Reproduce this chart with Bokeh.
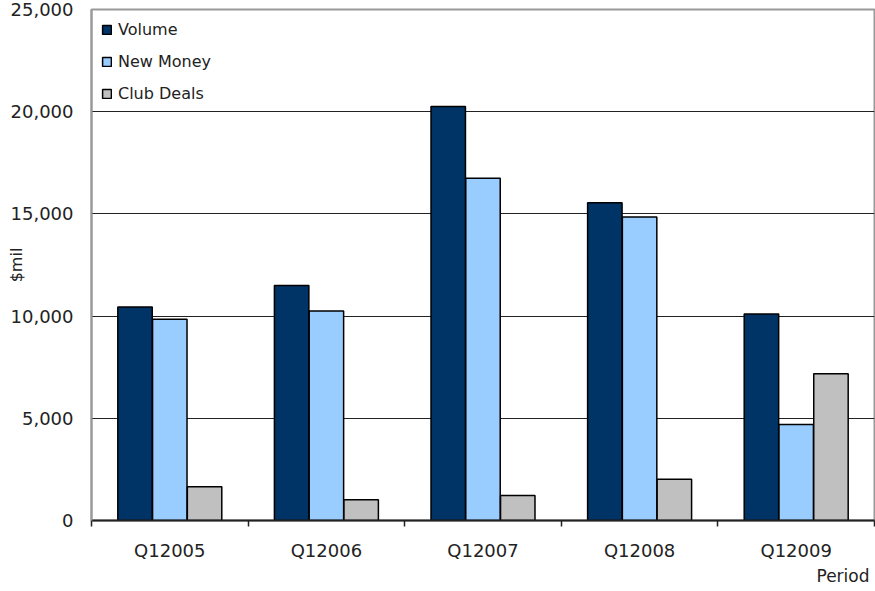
from bokeh.plotting import figure
from bokeh.models import (ColumnDataSource, Range1d, FixedTicker, Title,
                          NumeralTickFormatter, Legend, LegendItem)
from bokeh.transform import dodge
from bokeh.embed import file_html
from bokeh.resources import INLINE

periods = ["Q12005", "Q12006", "Q12007", "Q12008", "Q12009"]
volume = [10450, 11500, 20250, 15550, 10100]
new_money = [9850, 10250, 16750, 14850, 4700]
club_deals = [1650, 1020, 1220, 2020, 7180]
y_ticks = [0, 5000, 10000, 15000, 20000, 25000]

FONT = "DejaVu Sans"
TXT = "#222222"

n = len(periods)
centers = [i + 0.5 for i in range(n)]
bounds = list(range(n + 1))
src = ColumnDataSource(dict(x=centers, period=periods, volume=volume,
                            new_money=new_money, club=club_deals))

W, H = 875, 591
ML, MR, MT, MB = 91, 1, 9, 71
p = figure(width=W, height=H, x_range=Range1d(0, n), y_range=Range1d(0, 25000),
           output_backend="svg", toolbar_location=None,
           min_border_left=ML, min_border_right=MR, min_border_top=MT, min_border_bottom=MB)
p.outline_line_color = "#999999"
p.outline_line_width = 2
p.background_fill_color = "white"

w = 0.22
r1 = p.vbar(x=dodge("x", -0.222), top="volume", width=w, source=src,
            fill_color="#003366", line_color="black", line_width=1.5)
r2 = p.vbar(x=dodge("x", 0.0), top="new_money", width=w, source=src,
            fill_color="#99CCFF", line_color="black", line_width=1.5)
r3 = p.vbar(x=dodge("x", 0.222), top="club", width=w, source=src,
            fill_color="#C0C0C0", line_color="black", line_width=1.5)

# grid
p.xgrid.grid_line_color = None
p.ygrid.ticker = FixedTicker(ticks=y_ticks[1:-1])
p.ygrid.grid_line_color = "#222222"
p.ygrid.grid_line_width = 1

# y axis
ya = p.yaxis[0]
ya.ticker = FixedTicker(ticks=y_ticks)
ya.formatter = NumeralTickFormatter(format="0,0")
ya.axis_line_color = "#999999"
ya.axis_line_width = 2
ya.major_tick_line_color = None
ya.major_tick_out = 0
ya.major_tick_in = 0
ya.minor_tick_line_color = None
ya.major_label_standoff = 18
ya.major_label_text_font = FONT
ya.major_label_text_font_size = "18px"
ya.major_label_text_color = TXT
ya.axis_label = "$mil"
ya.axis_label_align = "center"
ya.axis_label_standoff = -18
ya.axis_label_text_font = FONT
ya.axis_label_text_font_size = "16px"
ya.axis_label_text_font_style = "normal"
ya.axis_label_text_color = TXT

# x axis: labels at category centres, boundary ticks as minor ticks
xa = p.xaxis[0]
xa.ticker = FixedTicker(ticks=centers, minor_ticks=bounds)
xa.major_label_overrides = {c: lab for c, lab in zip(centers, periods)}
xa.axis_line_color = "#222222"
xa.axis_line_width = 2
xa.major_tick_line_color = None
xa.major_tick_out = 0
xa.major_tick_in = 0
xa.minor_tick_line_color = "#222222"
xa.minor_tick_line_width = 1.5
xa.minor_tick_out = 6
xa.minor_tick_in = 0
xa.major_label_standoff = 13
xa.major_label_text_font = FONT
xa.major_label_text_font_size = "18px"
xa.major_label_text_color = TXT

# x-axis title, right aligned under the axis
p.add_layout(Title(text="Period", align="right", offset=5, standoff=0,
                   text_font=FONT, text_font_size="17px", text_font_style="normal",
                   text_color=TXT), "below")

# legend
legend = Legend(items=[LegendItem(label="Volume", renderers=[r1]),
                       LegendItem(label="New Money", renderers=[r2]),
                       LegendItem(label="Club Deals", renderers=[r3])],
                location="top_left", margin=10, padding=0, spacing=12,
                glyph_width=11, glyph_height=11, label_height=20, label_standoff=6,
                label_text_font=FONT, label_text_font_size="16px", label_text_color=TXT,
                border_line_color=None, background_fill_alpha=0)
p.add_layout(legend, "center")

open("out.html", "w").write(file_html(p, INLINE))
